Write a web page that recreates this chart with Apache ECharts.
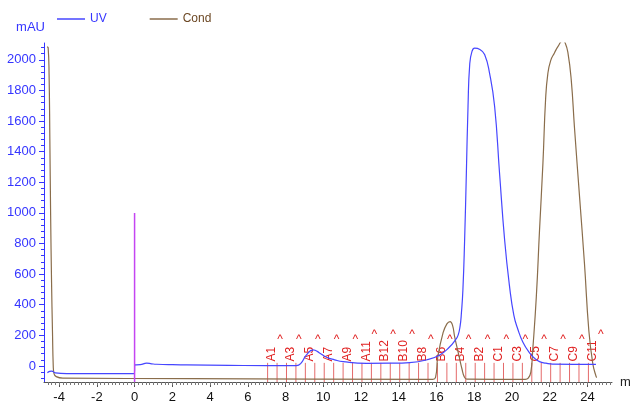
<!DOCTYPE html>
<html>
<head>
<meta charset="utf-8">
<script src="https://cdn.jsdelivr.net/npm/echarts@6/dist/echarts.min.js"></script>
<style>
html, body { margin: 0; padding: 0; background: #fff; }
#chart { width: 630px; height: 405px; }
</style>
</head>
<body>
<div id="chart"></div>
<script>
// UV trace, [ml, mAU]
var uvData = [
    [-4.62, -44], [-4.5, -36], [-4.39, -34], [-4.2, -45], [-3.6, -50], [-2, -50], [-0.01, -50],
    [0.01, 7], [0.3, 8], [0.64, 18], [0.9, 14], [1.17, 11], [2.0, 8], [2.76, 7], [5, 4], [7, 2],
    [8.58, 2], [8.8, 15], [9.1, 70], [9.46, 105], [9.8, 85], [10.17, 57], [10.6, 40], [11.05, 28],
    [12.29, 17], [13.5, 18], [14.58, 22], [15.46, 39], [16.17, 72], [16.7, 125], [17.0, 170],
    [17.14, 200], [17.25, 260], [17.32, 346], [17.4, 500], [17.49, 823], [17.58, 1250],
    [17.67, 1695], [17.76, 1970], [17.88, 2055], [18.02, 2076], [18.3, 2068], [18.55, 2035],
    [18.81, 1913], [19.08, 1695], [19.34, 1261], [19.61, 823], [19.87, 520], [20.1, 330],
    [20.31, 240], [20.58, 155], [20.93, 85], [21.2, 50], [21.46, 28], [21.8, 18], [22.15, 12],
    [24.45, 10]
];
// conductivity trace
var condData = [
    [-4.64, 2085], [-4.58, 2080], [-4.53, 1900], [-4.49, 1480], [-4.45, 1000], [-4.4, 550],
    [-4.35, 220], [-4.31, 0], [-4.27, -50], [-4.15, -70], [-3.8, -80], [3, -83], [15.8, -88],
    [15.95, -75], [16.07, 60], [16.34, 213], [16.55, 275], [16.72, 290], [16.85, 265],
    [16.96, 192], [17.2, 61], [17.35, -20], [17.47, -70], [17.6, -86], [20.7, -88],
    [20.86, -80], [21.0, -40], [21.1, 105], [21.29, 453], [21.46, 889], [21.64, 1325],
    [21.78, 1740], [21.9, 1910], [22.05, 1995], [22.25, 2045], [22.45, 2090], [22.7, 2126],
    [22.82, 2110], [22.96, 2050], [23.14, 1869], [23.31, 1560], [23.58, 1106], [23.84, 671],
    [24.07, 235], [24.28, 17], [24.46, -70], [24.5, -75]
];
var injectData = [[0, 1000], [0, -105]];

var fracLines = [7.05, 7.55, 8.05, 8.55, 9.05, 9.55, 10.05, 10.55, 11.05, 11.55, 12.05, 12.55,
    13.05, 13.55, 14.05, 14.55, 15.05, 15.55, 16.05, 16.55, 17.05, 17.55, 18.05, 18.55, 19.05,
    19.55, 20.05, 20.55, 21.05, 21.55, 22.05, 22.55, 23.05, 23.55, 24.05];
var fracNames = ['A1', 'A3', 'A5', 'A7', 'A9', 'A11', 'B12', 'B10', 'B8', 'B6', 'B4', 'B2',
    'C1', 'C3', 'C5', 'C7', 'C9', 'C11'];
var fracNameX = [7.28, 8.28, 9.28, 10.28, 11.28, 12.28, 13.28, 14.28, 15.28, 16.28, 17.28,
    18.28, 19.28, 20.28, 21.28, 22.28, 23.28, 24.28];

var xTicks = [-4, -2, 0, 2, 4, 6, 8, 10, 12, 14, 16, 18, 20, 22, 24];
var yTicks = [0, 200, 400, 600, 800, 1000, 1200, 1400, 1600, 1800, 2000];

var FONT = 'Liberation Sans, Arial, sans-serif';
var BLUE = '#4646ff';
var AXBLUE = '#3535ff';
var BROWN = '#8a6d4b';
var RED = '#e02222';

// minor ticks
var xMinor = [];
for (var i = -23; i <= 126; i++) xMinor.push(Math.round(i * 0.2 * 10) / 10);
var yMinor = [];
for (var j = -2; j <= 52; j++) yMinor.push(j * 40);

function renderFracLine(params, api) {
    var x = api.value(0);
    var p1 = api.coord([x, -105]);
    var p2 = api.coord([x, 20]);
    return {
        type: 'line',
        shape: { x1: p1[0], y1: p1[1], x2: p2[0], y2: p2[1] },
        style: { stroke: '#e46a6a', lineWidth: 1 }
    };
}

function renderFracLabel(params, api) {
    var p = api.coord([api.value(0), 29]);
    var name = fracNames[params.dataIndex];
    var caretY = name.length > 2 ? p[1] - 27 : p[1] - 22;
    return {
        type: 'group',
        children: [
            {
                type: 'text', x: p[0], y: p[1], rotation: Math.PI / 2,
                style: { text: name, fill: RED, font: '12px ' + FONT, align: 'left', verticalAlign: 'middle' }
            },
            {
                type: 'text', x: p[0] + 8, y: caretY,
                style: { text: '^', fill: RED, font: '12px ' + FONT, align: 'center', verticalAlign: 'middle' }
            }
        ]
    };
}

function plain(v) {
    return String(v);
}

var chart = echarts.init(document.getElementById('chart'));
chart.setOption({
    animation: false,
    backgroundColor: '#fff',
    textStyle: { fontFamily: FONT },
    grid: { left: 44, right: 18, top: 43, bottom: 23, outerBoundsMode: 'none' },
    legend: {
        left: 52, top: 8,
        icon: 'rect',
        itemWidth: 28, itemHeight: 1.5, itemGap: 43,
        textStyle: { fontSize: 12, fontFamily: FONT },
        data: [
            { name: 'UV', textStyle: { color: AXBLUE } },
            { name: 'Cond', textStyle: { color: '#6b4723' } }
        ]
    },
    xAxis: [
        {
            type: 'value', min: -4.8, max: 25.3, position: 'bottom',
            name: 'ml', nameLocation: 'end', nameGap: 8,
            nameTextStyle: { color: '#222', fontSize: 13, align: 'left', verticalAlign: 'middle' },
            axisLine: { onZero: false, lineStyle: { color: '#555' } },
            axisTick: { customValues: xTicks, length: 5, lineStyle: { color: '#555' } },
            axisLabel: { customValues: xTicks, color: '#111', fontSize: 13, margin: 9, formatter: plain },
            splitLine: { show: false }
        },
        {
            type: 'value', min: -4.8, max: 25.3, position: 'bottom',
            axisLine: { show: false, onZero: false },
            axisTick: { customValues: xMinor, length: 3, lineStyle: { color: '#777' } },
            axisLabel: { show: false },
            splitLine: { show: false }
        }
    ],
    yAxis: [
        {
            type: 'value', min: -105, max: 2110, position: 'left',
            name: 'mAU', nameLocation: 'end', nameGap: 9,
            nameTextStyle: { color: AXBLUE, fontSize: 13, align: 'right', verticalAlign: 'bottom', padding: [0, -1, 0, 0] },
            axisLine: { show: true, onZero: false, lineStyle: { color: AXBLUE } },
            axisTick: { show: true, customValues: yTicks, length: 5, lineStyle: { color: AXBLUE } },
            axisLabel: { customValues: yTicks, color: AXBLUE, fontSize: 13, margin: 8, formatter: plain },
            splitLine: { show: false }
        },
        {
            type: 'value', min: -105, max: 2110, position: 'left',
            axisLine: { show: false, onZero: false },
            axisTick: { show: true, customValues: yMinor, length: 3, lineStyle: { color: AXBLUE } },
            axisLabel: { show: false },
            splitLine: { show: false }
        }
    ],
    series: [
        {
            name: 'Cond', type: 'line', data: condData, symbol: 'none',
            smooth: 0.5,
            lineStyle: { color: BROWN, width: 1.2 }, itemStyle: { color: BROWN }
        },
        {
            name: 'UV', type: 'line', data: uvData, symbol: 'none',
            smooth: 0.5,
            lineStyle: { color: BLUE, width: 1.2 }, itemStyle: { color: BLUE }
        },
        {
            name: 'inject', type: 'line', data: injectData, symbol: 'none', silent: true,
            lineStyle: { color: '#c445f2', width: 1.5 }
        },
        {
            name: 'fracLines', type: 'custom', renderItem: renderFracLine, silent: true,
            data: fracLines.map(function (v) { return [v, 0]; })
        },
        {
            name: 'fracLabels', type: 'custom', renderItem: renderFracLabel, silent: true,
            data: fracNameX.map(function (v) { return [v, 0]; })
        }
    ]
});
</script>
</body>
</html>
